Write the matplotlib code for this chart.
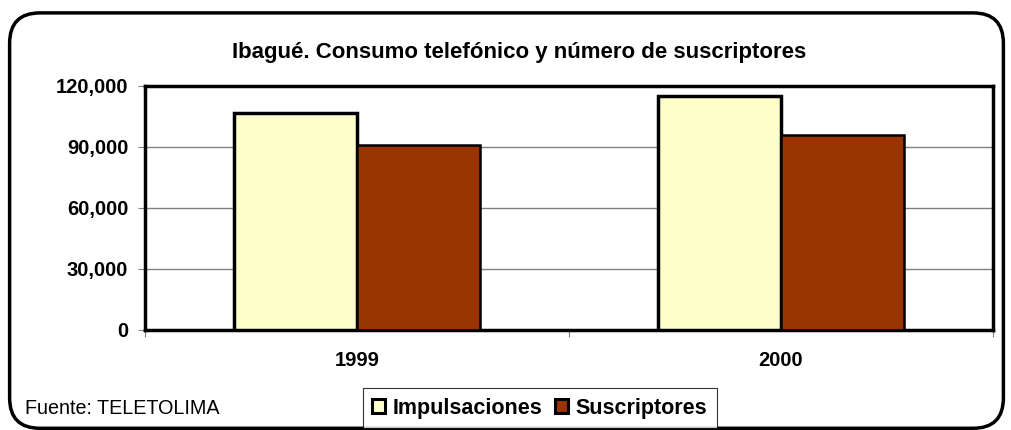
import matplotlib.pyplot as plt
from matplotlib.patches import FancyBboxPatch
import numpy as np

plt.rcParams['font.family'] = ['Liberation Sans', 'DejaVu Sans']

years = ['1999', '2000']
impulsaciones = [106600, 115100]
suscriptores = [91000, 95900]
yticks = [0, 30000, 60000, 90000, 120000]

fig = plt.figure(figsize=(10.12, 4.3), dpi=100)
ax = fig.add_axes([0.1433, 0.2326, 0.8379, 0.5674])

x = np.arange(len(years))
w = 0.29
ax.bar(x - w / 2, impulsaciones, w, color='#FFFFCC', edgecolor='black', linewidth=2.5,
       label='Impulsaciones', zorder=3)
ax.bar(x + w / 2, suscriptores, w, color='#993300', edgecolor='black', linewidth=1.8,
       label='Suscriptores', zorder=3)

ax.set_xlim(-0.5, 1.5)
ax.set_ylim(0, 120000)
ax.set_yticks(yticks)
ax.set_yticklabels([f'{v:,}' for v in yticks], fontweight='bold', fontsize=14.5)
ax.yaxis.grid(True, color='#808080', linewidth=1, zorder=0)
ax.set_xticks([-0.5, 0.5, 1.5])
ax.set_xticklabels([])
ax.set_xticks(x, minor=True)
ax.set_xticklabels(years, minor=True, fontweight='bold', fontsize=14.5)
ax.tick_params(axis='x', which='minor', length=0, pad=15)
ax.tick_params(axis='x', which='major', length=5, color='#808080')
ax.tick_params(axis='y', length=5, color='#808080', pad=7)
for s in ax.spines.values():
    s.set_linewidth(2.5)
    s.set_color('black')

fig.text(0.513, 0.879, 'Ibagué. Consumo telefónico y número de suscriptores',
         fontweight='bold', fontsize=16, ha='center', va='center')

leg = fig.legend(loc='center', bbox_to_anchor=(0.5335, 0.051), ncol=2,
                 prop={'weight': 'bold', 'size': 15.5}, frameon=True, fancybox=False,
                 edgecolor='black', handlelength=0.6, handleheight=0.6,
                 handletextpad=0.35, columnspacing=0.6, borderpad=0.45,
                 borderaxespad=0)
leg.get_frame().set_linewidth(0.8)
for h in leg.legend_handles:
    h.set_linewidth(2.2)

fig.text(0.0247, 0.049, 'Fuente: TELETOLIMA', fontsize=14.2, va='center')

border = FancyBboxPatch((0.0095, 0.004), 0.982, 0.966, transform=fig.transFigure,
                        boxstyle='round,pad=0,rounding_size=0.03',
                        fill=False, edgecolor='black', linewidth=2.5,
                        mutation_aspect=1012 / 430)
fig.patches.append(border)

fig.savefig('out.png', dpi=100)
